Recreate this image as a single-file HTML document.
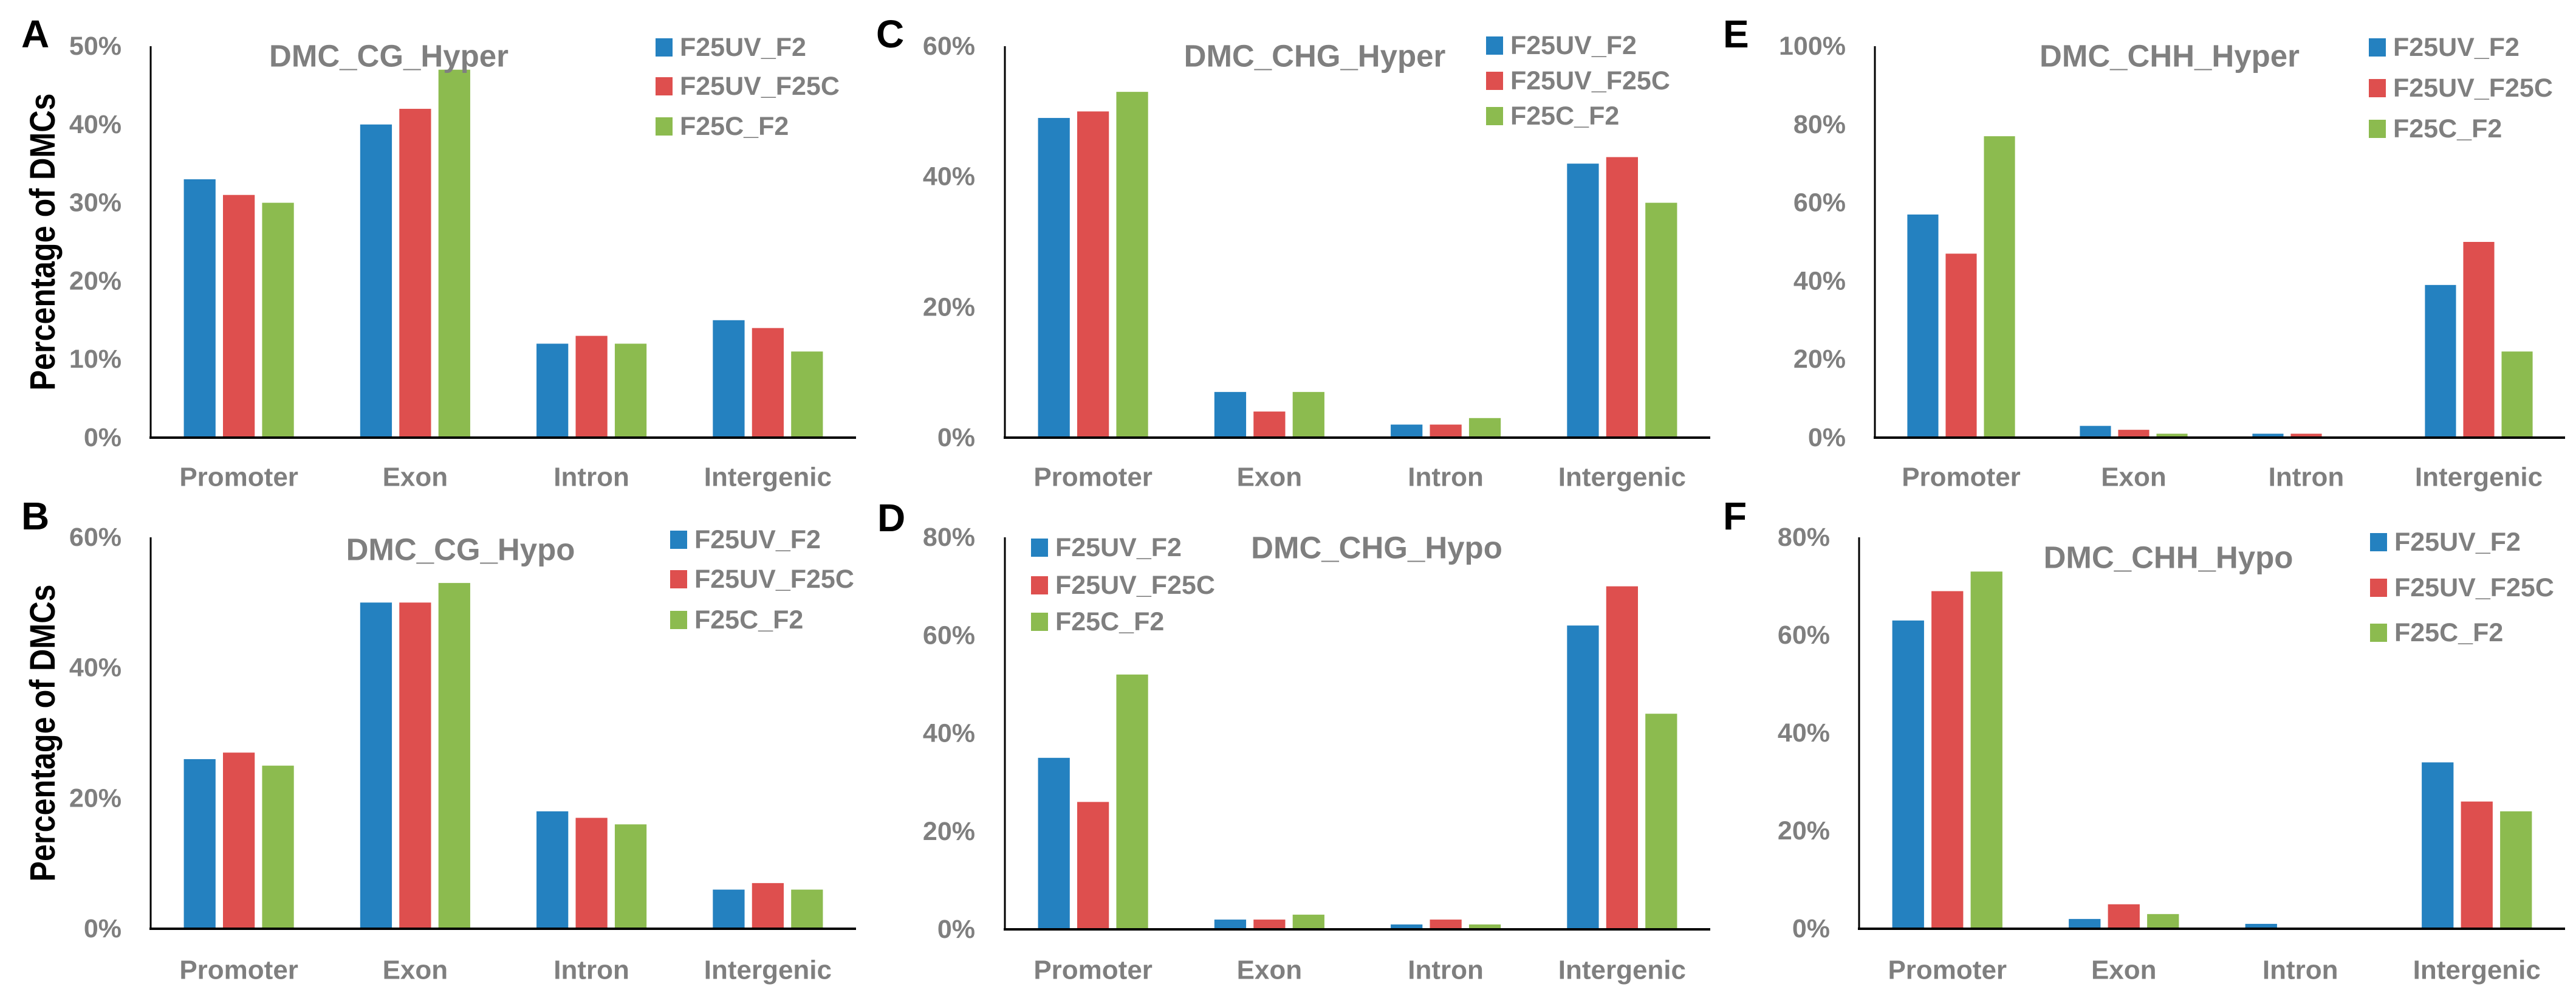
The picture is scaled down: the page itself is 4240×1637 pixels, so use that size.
<!DOCTYPE html>
<html><head><meta charset="utf-8"><style>
html,body{margin:0;padding:0;background:#fff;}
svg{display:block;}
text{font-family:"Liberation Sans",sans-serif;font-weight:bold;}
</style></head><body>
<svg id="fig" width="4240" height="1637" viewBox="0 0 4240 1637" xmlns="http://www.w3.org/2000/svg"></svg>
<script>
const categories = ["Promoter","Exon","Intron","Intergenic"];
const seriesNames = ["F25UV_F2","F25UV_F25C","F25C_F2"];
const colors = ["#2481C0","#DE4F4E","#8CBB4F"];

const aValues = [[33,40,12,15],[31,42,13,14],[30,47,12,11]];
const bValues = [[26,50,18,6],[27,50,17,7],[25,53,16,6]];
const cValues = [[49,7,2,42],[50,4,2,43],[53,7,3,36]];
const dValues = [[35,2,1,62],[26,2,2,70],[52,3,1,44]];
const eValues = [[57,3,1,39],[47,2,1,50],[77,1,0,22]];
const fValues = [[63,2,1,34],[69,5,0,26],[73,3,0,24]];

const aTicks = [0,10,20,30,40,50];
const bTicks = [0,20,40,60];
const cTicks = [0,20,40,60];
const dTicks = [0,20,40,60,80];
const eTicks = [0,20,40,60,80,100];
const fTicks = [0,20,40,60,80];

const panels = [
 {id:"a",label:"A",title:"DMC_CG_Hyper",values:aValues,ticks:aTicks,x0:248,x1:1409,top:76,bot:720,catY:785,tickR:200,legX:1079,legY:[78,142,208],titleX:640,titleY:92,labX:35,labY:31,ytitle:true},
 {id:"c",label:"C",title:"DMC_CHG_Hyper",values:cValues,ticks:cTicks,x0:1654,x1:2815,top:76,bot:720,catY:785,tickR:1605,legX:2446,legY:[75,133,191],titleX:2164,titleY:92,labX:1442,labY:31},
 {id:"e",label:"E",title:"DMC_CHH_Hyper",values:eValues,ticks:eTicks,x0:3086,x1:4222,top:76,bot:720,catY:785,tickR:3038,legX:3899,legY:[78,145,212],titleX:3571,titleY:92,labX:2836,labY:31},
 {id:"b",label:"B",title:"DMC_CG_Hypo",values:bValues,ticks:bTicks,x0:248,x1:1409,top:884,bot:1528,catY:1596,tickR:200,legX:1103,legY:[888,953,1020],titleX:758,titleY:904,labX:35,labY:824,ytitle:true},
 {id:"d",label:"D",title:"DMC_CHG_Hypo",values:dValues,ticks:dTicks,x0:1654,x1:2815,top:884,bot:1529,catY:1596,tickR:1605,legX:1697,legY:[901,963,1023],titleX:2266,titleY:901,labX:1444,labY:827},
 {id:"f",label:"F",title:"DMC_CHH_Hypo",values:fValues,ticks:fTicks,x0:3060,x1:4222,top:884,bot:1528,catY:1596,tickR:3012,legX:3901,legY:[892,967,1041],titleX:3569,titleY:917,labX:2836,labY:824}
];

const NS = "http://www.w3.org/2000/svg";
const svg = document.getElementById("fig");
function mk(tag, attrs, parent){
  const e = document.createElementNS(NS, tag);
  for (const k in attrs) e.setAttribute(k, attrs[k]);
  (parent||svg).appendChild(e);
  return e;
}

panels.forEach(p => {
  const g = mk("g", {});
  
  
  const maxV = p.ticks[p.ticks.length-1];
  const yScale = v => p.bot - (v/maxV)*(p.bot-p.top);
  const W = (p.x1-p.x0)/categories.length;
  const xCat = i => p.x0 + W*i + W/2;
  const barW = W*0.18, step = W*0.222;

  p.ticks.forEach(t => {
    const tx = mk("text", {x:p.tickR, y:yScale(t), "text-anchor":"end", "dominant-baseline":"central", "font-size":43, fill:"#7F7F7F"}, g);
    tx.textContent = t + "%";
    
    
  });
  p.values.forEach((ser, s) => {
    ser.forEach((v, i) => {
      const cx = xCat(i) + (s-1)*step;
      const y = yScale(v);
      const r = mk("rect", {x:cx-barW/2, y:y, width:barW, height:p.bot-y, fill:colors[s]}, g);
      
      
    });
  });
  const ya = mk("line", {x1:p.x0, y1:p.top, x2:p.x0, y2:p.bot, stroke:"#000", "stroke-width":3}, g);
  
  
  const xa = mk("line", {x1:p.x0-2, y1:p.bot, x2:p.x1, y2:p.bot, stroke:"#000", "stroke-width":4}, g);
  
  
  categories.forEach((c, i) => {
    const t = mk("text", {x:xCat(i), y:p.catY, "text-anchor":"middle", "dominant-baseline":"central", "font-size":44, fill:"#7F7F7F"}, g);
    t.textContent = c;
    
    
  });
  const ti = mk("text", {x:p.titleX, y:p.titleY, "text-anchor":"middle", "dominant-baseline":"central", "font-size":51, fill:"#7F7F7F"}, g);
  ti.textContent = p.title;
  
  
  seriesNames.forEach((n, s) => {
    const sq = mk("rect", {x:p.legX, y:p.legY[s]-15, width:28, height:30, fill:colors[s]}, g);
    
    
    const lt = mk("text", {x:p.legX+40, y:p.legY[s], "dominant-baseline":"central", "font-size":43, fill:"#7F7F7F"}, g);
    lt.textContent = n;
    
    
  });
  const pl = mk("text", {x:p.labX, y:p.labY+47, "font-size":64, fill:"#000"}, g);
  pl.textContent = p.label;
  
  
  if (p.ytitle) {
    const cy = (p.top+p.bot)/2;
    const yt = mk("text", {x:0, y:0, transform:"translate(90," + cy + ") rotate(-90)", "text-anchor":"middle", "font-size":58, textLength:489, lengthAdjust:"spacingAndGlyphs", fill:"#000"}, g);
    yt.textContent = "Percentage of DMCs";
    
    
  }
});
</script>
</body></html>
